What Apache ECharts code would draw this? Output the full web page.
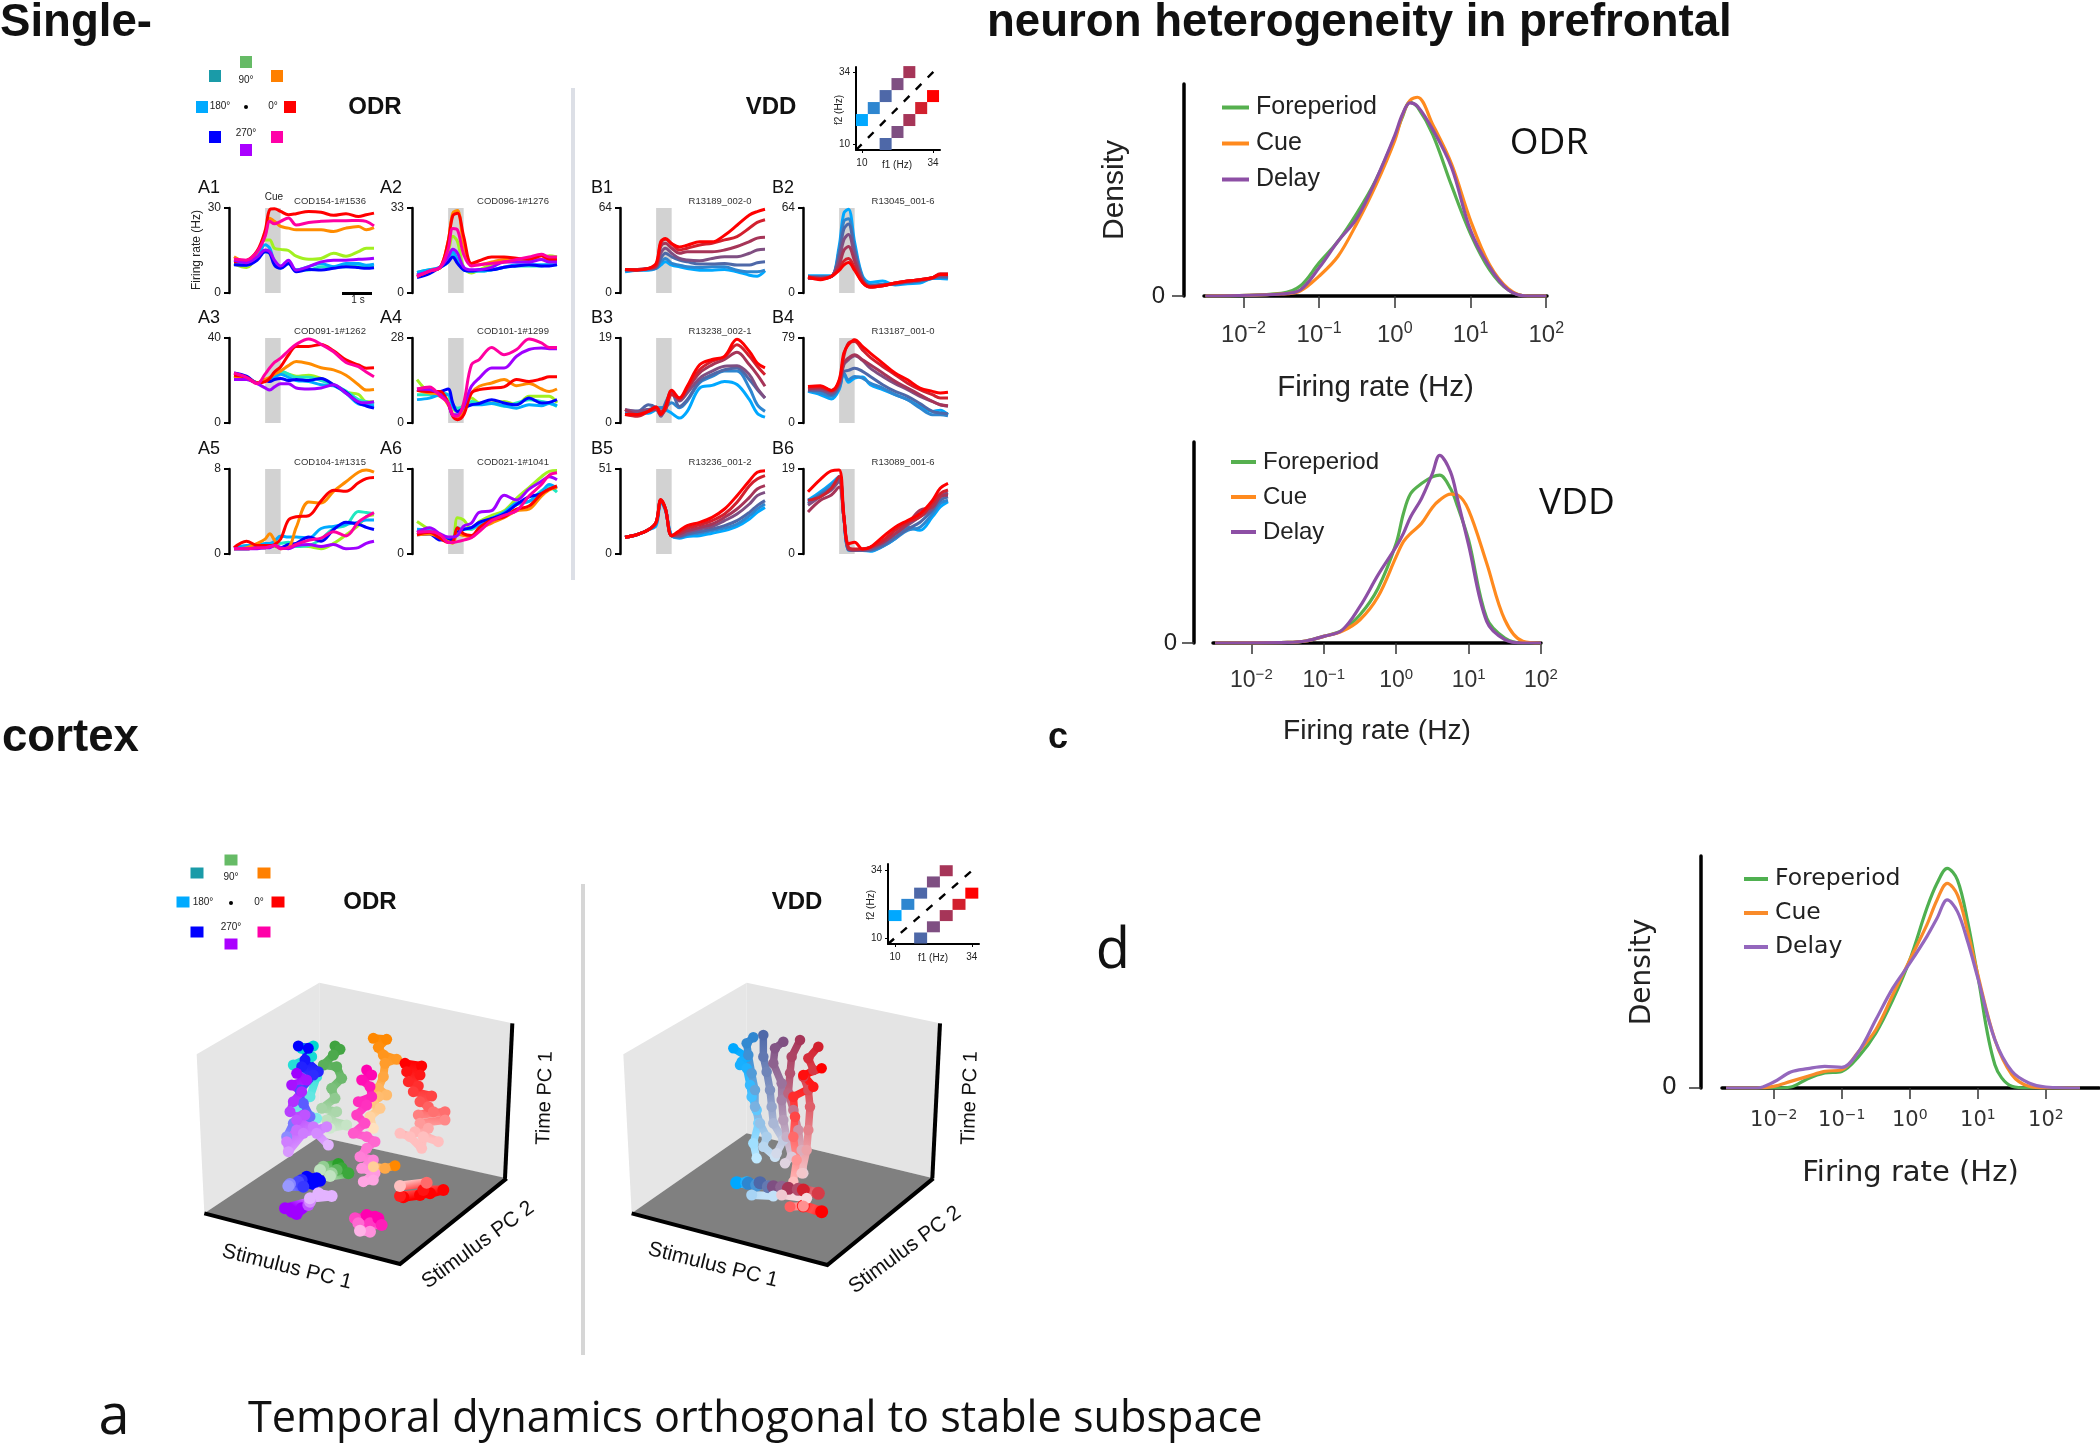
<!DOCTYPE html>
<html><head><meta charset="utf-8">
<style>html,body{margin:0;padding:0;background:#fff}#c{width:2100px;height:1443px}</style>
<script src="https://cdn.jsdelivr.net/npm/echarts@6/dist/echarts.min.js"></script>
</head><body><div id="c"></div>
<script>
// ---------- DATA: single-neuron firing rates (Hz), by time from cue onset (s) ----------
const time = [-1,-.6,-.25,0,.15,.3,.5,.75,1,1.4,1.8,2.2,2.6,3,3.25,3.5];
const cueWindow = [0, 0.5];
const odrNames = ['90°','135°','180°','225°','45°','0°','270°','315°'];
const odrLineColors = ['#a2f020','#20e8c0','#00aaff','#0000ff','#ff8c00','#ff0000','#a000ff','#ff00a0'];
const vddNames = ['f1 10','f1 14','f1 18','f1 22','f1 26','f1 30','f1 34'];
const vddLineColors = ['#00a8ff','#2e86d0','#4e68a8','#7f4f82','#a63558','#d2202e','#ff0000'];

// order in every A array: lime, teal, sky, blue, orange, red, purple, magenta
const A1 = [
 [10.2,9,14,18.7,18.7,15.8,15.4,15,13,11.9,12.2,14,13,14.6,15.8,15.8],
 [10.4,9.8,12.8,14.6,14,11,8.7,10.4,8.1,8.1,9.3,9.3,9.3,9.8,9.3,9.3],
 [10.4,10.2,12.8,17,15.8,11,9.3,10.4,8.1,9.3,10.4,9.3,10.4,10.4,9.8,10.2],
 [10,9.8,11.6,14.6,14,9.8,8.7,10.4,7.5,8.3,8.1,8.7,9.3,9,8.7,8.9],
 [12.8,11,14.6,20.5,26.4,25.3,23.5,22.9,22.3,22.3,22.3,21.7,22.9,23.5,22.3,23.1],
 [11,11.5,15,22,29.4,29.7,28.8,27.6,28,28.8,28.5,27.4,28,27,27.6,28.2],
 [11.6,10.7,12.8,15.2,14.6,11.6,9.5,11.6,8.1,9.3,11,11.6,11.6,11.9,12,12.3],
 [12,11.6,14.6,20,25.3,24.4,25.3,26.5,24,24.9,25.3,25.5,25.5,25.6,25.3,23.7]];
const A2 = [
 [7,8.8,9.8,16,22,20,10,7.8,9,11,12,12.5,13,13,14.5,14],
 [8,9,10,12,15,12,9,8.5,8.5,9,10,10.5,10.5,10.5,11,11],
 [8,9,10,13,16,13,9,8.5,8.5,9,10,11,11,11,11,11],
 [6,7.5,10,12,14,11.5,9,8.5,9,9,10,10.5,11,10.5,10.5,11],
 [6.5,8.5,10,20,31,32,19,11,11,12,13,13,13.5,13,12.5,12.5],
 [6.5,8.5,10,20,30,31,22,11.5,12.5,14,14,13.5,13,14.5,13,13],
 [7,8.5,10,14,17,15.5,10,9,9,10,12,12,12,13,12,12],
 [6.5,8.5,10,17,25,24.5,15,10.5,11,11.5,12,13,14,15,14,14]];
const A3 = [
 [22,21,19,20,21,22,24,23,22,22.5,21,18,14.5,13.5,10,10],
 [22,21,19,20,21,23,24.5,23,21.5,21.5,20,18,15,11,10,9],
 [21.5,21,19,20,21,21.5,23,21.5,20,19.5,18,17.5,14,9,8.5,8],
 [23.5,22,19,20,19.5,20.5,21,20,20.5,20,21,18,14.5,9.5,8,7],
 [22,21,19,20.5,21.5,23,24.5,27,29,28,26,25,22.5,18,15.5,15.8],
 [22.5,21.5,18.8,19.5,21,24,26.5,32,36,36,37,34,29.7,27.3,25.8,26],
 [20.5,20.5,18.5,16.5,15.5,17,18.5,18.5,16.5,16,16.5,18,14,10,9.5,10],
 [23.5,21.5,18.5,23,26,28.5,30.5,34,37,39.5,37,33.5,28.5,26.5,24,21.8]];
const A4 = [
 [14.3,9.9,8.8,7.7,4.9,3.8,6,8.2,6.6,6.6,7.1,6,8.8,8.8,8.8,6.6],
 [9.3,9.3,9.9,9.3,6,4.9,5.5,7.1,6.4,6.4,5.5,6.6,7.7,7.1,6.6,5.5],
 [7.7,8.2,9.3,9.3,5.5,3.8,4.9,6,6,6.4,5.7,4.9,6,5.7,6.4,5.7],
 [11,10.4,10.4,11.2,6.6,3.8,4.9,6,6.4,7.7,6.6,6,8.2,6.6,6.8,7.7],
 [10.8,9.9,9.3,6,2.7,1.6,3.8,9.9,12.1,13.2,14.3,12.3,13,11.2,10.4,11.2],
 [10.8,10.4,10.4,6.6,2.2,1.1,2.7,9.9,11,11.5,11.9,14.3,13.7,14.5,15.2,15.2],
 [11.2,11,9.3,6.6,2.7,2.7,5.5,12.1,14.8,18.1,18.1,22,24.2,24.7,24.5,24.5],
 [11.2,11.9,8.8,6.6,2.7,2.2,6.6,19.2,20.9,24.9,22.5,24.2,27.7,26.4,24.9,24.9]];
const A5 = [
 [.5,.5,.6,.6,.7,.7,.6,.7,.8,.7,.5,1,1.8,2.7,3.5,3.7],
 [.5,.5,.6,.7,.7,.9,1,1.1,.7,.8,1.4,2.4,2.7,4,3.9,3.8],
 [.5,.8,.8,1,1,1.2,1.7,1.6,1.6,1.5,2.4,2.6,2.8,3,3.2,3.2],
 [.5,.5,.6,.6,.7,.8,.6,.9,1,1.6,1.2,2.3,3,2.8,2.5,2.3],
 [.5,.6,1,1.4,1.9,1.3,.5,.6,2.5,4.9,4.8,5.9,6.8,7.7,7.9,7.7],
 [.6,1.2,.8,.8,.8,.9,1.4,3.2,3.5,3.6,5,6,5.9,6.7,7.1,7.2],
 [.5,.5,.5,.6,.6,.8,.6,.5,.8,.9,.7,.9,.5,.6,1,1.2],
 [.5,.5,.6,.6,.7,.8,.5,.6,.9,1.3,1.5,2.1,1.7,3,3.5,3.9]];
const A6 = [
 [4.2,3.1,2,1.8,1.6,4.7,4.4,3.2,4.2,5,5.6,7.2,8.6,10,10.7,10.8],
 [3,3,2.2,2,1.9,3.4,3.2,3.2,3.8,4.6,5.3,6.4,6.8,8.2,8.6,8],
 [3.2,3,2.2,2,1.8,2.8,3.2,3.4,3.8,4.6,5.4,6.6,6.8,8,9,8.5],
 [2.5,2.6,1.8,1.8,2,2.8,3.2,3.4,4.1,4.6,5.2,6.4,7.4,7.8,8.4,8.6],
 [2.5,2.6,2.1,1.6,1.4,2.6,2.4,2.2,3.2,4,4.7,5.6,5.8,7.5,8.3,8.6],
 [2.5,2.8,2,1.5,1.6,3.4,2.6,2.4,3.4,4.4,4.8,5.8,6.2,7.8,8.4,8.8],
 [2.8,3.4,2.6,2.2,2.2,2.4,3.6,4,5.4,5.6,7.6,7,8.4,9.4,10,9.6],
 [2.8,2.9,2.5,1.5,1.5,1.6,1.8,2.1,2.9,4.3,5,5.6,7.5,9,10.2,10.5]];

// order in every B array: sky → red
const B1 = [
 [16,17.2,17.2,18.5,21,23.5,21,19.7,18.5,17.2,17.2,17.7,16,13.4,12.7,16.7],
 [16.7,17.2,17.7,18.5,23.5,26,22.3,21,19.7,19.2,19.7,19.7,17.2,16,16,17.2],
 [17.2,17.7,18,19,26,29.9,27.3,24.8,23.5,21.8,21.8,22.3,21,21,22.8,23.5],
 [17.7,17.7,18.5,19.7,29.9,33.7,29.9,26,24.8,24.3,26,27.3,27.3,29.9,32.4,32.9],
 [17.7,17.7,18.5,20.3,35,37.5,33.7,29.9,31.1,31.1,31.1,32.4,35,38.7,41.3,42],
 [17.7,17.7,18.5,21,37.5,40.5,37,32.4,33.7,36.2,37.5,40,42.5,48.9,53.2,55.2],
 [17.7,17.2,18.5,22.3,38.7,41,37.2,34.7,36,38.5,38.5,43.5,51,58.7,61.3,63]];
const B2 = [
 [13,13,13,35,60,63,38,13,8,9,6,7,7.5,11,11,10.5],
 [12.5,12.5,12.5,32,54,56,34,12,6,6.5,6.5,8,9,11,12,11.5],
 [12,12,12.5,29,48,52,32,11,5.5,6,7,8,9,11,12,12],
 [12,11,12.5,25,40,44,28,10,5,6,7,8.5,9.5,11.5,13,13],
 [11,11,12.5,21,32,35,24,9,4.5,5.5,7.5,9,10,11.5,14,14],
 [12,11,12.5,18,24,26,19,8,4.5,5.5,7.5,9,10,11.5,14.5,14.5],
 [12,10,12.5,17,21,23,17,8,4.5,5.5,7.5,9,10,11.5,14,14]];
const B3 = [
 [1.9,2.2,2.2,3,3.4,3,2.2,1.1,2.6,7.8,8.4,9.3,8.6,5.2,2.2,1.3],
 [2.6,2.6,3,3.4,3.4,3.7,4.5,3.4,4.9,9,10.4,11.6,11.6,7.8,4.1,2.6],
 [2.6,2.6,4.1,3.4,1.9,4.5,6.7,3.7,5.2,9.3,10.8,11.9,12.3,9.7,7.5,5.6],
 [3,2.6,3,3,1.5,3.7,7.1,4.9,6.7,10,11.6,12.7,12.8,10.8,7.8,5.6],
 [3,1.9,2.6,3,1.9,3,6.7,5.2,7.5,11.2,13,14.2,15.8,13,10.8,8.2],
 [1.9,1.5,2.6,3.6,2.6,3,6.3,5.6,7.8,11.9,13.8,14.8,17.5,14.9,12.7,10.8],
 [1.9,1.9,2.6,3.6,1.9,3.7,7.3,5.6,8.2,13,14.2,14.9,18.7,16,13.4,12.3]];
const B4 = [
 [29.4,26.3,22.3,31,46.4,37.8,41.8,42.7,35.6,31,26.3,21.7,15.5,10.8,11.8,7.7],
 [30.3,27.9,24.8,32.5,46.4,40.2,43.3,41.8,37,32.5,26.3,21.7,13.9,7.7,7.7,6.8],
 [30.3,30.3,26.3,34,48,48.9,51,48,43.3,35.6,29.4,24.8,18,10.8,9.3,8.7],
 [31.6,31,27.9,35.6,54,58.8,62.5,58.2,51,43.3,36.5,31,24.8,20,17,15.5],
 [31.6,32.5,29.4,37,55.7,60.4,63.5,58.8,54.2,46.4,38.7,32.5,26.3,20,17,16],
 [33.4,33.4,30.3,38.7,61.9,74.3,75.8,68,61,52.6,44.9,37,31,26.3,23.2,23.2],
 [34,34.7,30.3,40,65,72.8,77.4,71.2,65,55.7,46.4,40.2,32.5,29.4,27.9,28.5]];
const B5 = [
 [10,11.7,14.5,17,31,26,11,9.5,10.5,11,12.5,14,16.5,21,25,28],
 [10,11.7,14.5,18,32,27,11,10,11.5,12.5,14,15.5,18,23,27,30],
 [10,11.7,14.5,18.5,32,27,11,10.5,12,13.5,15,17,20,25,29,32],
 [10,11.7,14.5,19,32,27,11,11,13,15,16.5,20,24,30,35,37],
 [10,11.7,14.5,19,32,27,11,12,14,16,18,22,27,34,39,41],
 [10,11.7,14.5,19,32.5,27,11,13,15.5,17.5,20,24,31,41,45,47],
 [10,11.7,14.5,19.2,32.7,27.2,11,14,17,19,22,27,35,44,49,50]];
const B6 = [
 [12,13.9,15.8,17.3,8.3,.9,.8,.8,.6,1.7,3.4,6,5.3,8.3,10.5,11.7],
 [11.7,13.5,15.4,16.9,8.3,.9,.8,.8,.8,1.7,3.4,5.3,6,9,11.3,12],
 [11.3,13.2,14.7,16.5,8.3,1.1,.9,.8,.9,1.9,3.8,5.6,7.1,9.8,12,12.8],
 [10.9,12.8,14.3,16.2,8.3,1.1,.9,.9,1.1,2.4,4.5,6.4,8.3,10.2,12.8,13.7],
 [9.4,12,13.2,15,8.3,1.1,.9,1.1,1.5,2.6,4.5,6.8,9.8,10.5,12.8,13.2],
 [12,12.8,14.7,17.3,8.3,1.5,1.1,1.1,1.5,3,5.3,7.1,8.3,11.3,13.5,14.3],
 [13.9,16.7,18.6,18.8,9,2.3,2.6,1.1,1.5,3.8,6,7.5,9,12,14.7,15.8]];

const panelNames = ['A1','A2','A3','A4','A5','A6','B1','B2','B3','B4','B5','B6'];
const panelMax = [30,33,40,28,8,11,64,64,19,79,51,19];
const panelIds = ['COD154-1#1536','COD096-1#1276','COD091-1#1262','COD101-1#1299','COD104-1#1315','COD021-1#1041',
                  'R13189_002-0','R13045_001-6','R13238_002-1','R13187_001-0','R13236_001-2','R13089_001-6'];
const panelData = [A1,A2,A3,A4,A5,A6,B1,B2,B3,B4,B5,B6];

// ---------- DATA: firing-rate densities (log10 Hz; density in arbitrary units) ----------
const odrLogRate = [-2.5,-1.5,-1.25,-1,-.75,-.5,-.25,0,.1,.2,.3,.5,.75,1,1.25,1.5,1.75,2];
const odrFore  = [0,8,30,100,165,250,350,480,540,585,570,488,333,188,80,18,0,0];
const odrCue   = [0,6,15,60,120,220,335,470,545,590,600,518,398,228,95,22,0,0];
const odrDelay = [0,6,18,85,165,235,350,485,548,583,573,503,388,198,88,18,0,0];
const vddLogRate = [-2.5,-1.5,-1.25,-1,-.75,-.5,-.25,0,.1,.2,.35,.5,.6,.75,.85,1,1.25,1.5,1.75,2];
const vddFore  = [0,2,6,20,38,85,165,300,390,450,480,500,505,465,410,310,75,15,0,0];
const vddCue   = [0,2,6,20,35,70,140,260,305,330,360,408,430,448,445,400,240,70,5,0];
const vddDelay = [0,2,6,20,38,110,205,290,330,380,435,510,565,515,430,295,65,10,0,0];
const pfcLogRate = [-2.7,-2.25,-2,-1.75,-1.5,-1.25,-1,-.75,-.5,-.25,0,.25,.4,.55,.7,.85,1,1.25,1.5,1.75,2,2.5];
const pfcFore  = [0,0,0,3,28,45,50,95,165,265,385,540,615,660,625,500,335,70,5,0,0,0];
const pfcCue   = [0,0,5,20,35,50,55,110,175,280,385,490,565,615,580,470,340,145,40,5,0,0];
const pfcDelay = [0,0,18,48,58,65,62,110,205,300,375,455,510,565,530,440,330,145,50,15,3,0];
const logTicks = [-2,-1,0,1,2];

// ---------- DATA: VDD stimulus grid (f1, f2 in Hz) ----------
const vddStim = [[10,18],[14,22],[18,26],[22,30],[26,34],[18,10],[22,14],[26,18],[30,22],[34,26]];
const vddStimColors = ['#00a8ff','#2e86d0','#4e68a8','#7f4f82','#a63558','#4e68a8','#7f4f82','#a63558','#d2202e','#ff0000'];

// ---------- DATA: 3-D state-space trajectories, read as projected positions ----------
const tRed = [[705,310],[755,318],[710,335],[750,345],[715,365],[745,378],[730,395],[785,408],[750,425],[775,440],[790,455],[745,465],[825,455],[825,480],[750,490],[775,505],[735,515],[805,545],[760,530],[755,565],[720,530],[690,520]];
const tOrange = [[610,235],[650,238],[625,262],[640,285],[680,298],[645,310],[640,350],[625,385],[650,405],[625,410],[610,430],[630,445],[600,470],[610,505]];
const tMagenta = [[590,330],[605,345],[575,360],[600,380],[605,410],[565,425],[590,435],[560,465],[585,490],[550,520],[590,530],[615,545],[590,565],[570,590],[610,600],[575,625],[615,640],[580,665],[610,660]];
const tGreen = [[495,258],[510,268],[490,285],[460,315],[500,320],[515,355],[485,385],[495,415],[455,445],[500,455],[470,480],[530,495],[480,505]];
const tTeal = [[430,258],[395,265],[425,290],[370,315],[440,350],[420,410],[380,440],[440,475]];
const tBlue = [[385,258],[415,265],[405,300],[445,335],[395,320],[430,345],[390,390],[400,430],[420,470],[370,490],[350,530]];
const tPurple = [[380,340],[410,360],[365,375],[395,395],[370,425],[360,455],[405,465],[380,480],[430,500],[380,510],[350,545],[355,575],[400,520],[470,500],[440,520],[475,555]];
const fGreen = [[505,612],[460,620],[515,625],[450,630],[500,630],[485,640],[535,640],[480,648]];
const fBlue = [[410,650],[440,655],[395,660],[450,662],[385,665],[430,672],[360,672],[400,680],[355,678]];
const fPurple = [[395,745],[365,755],[415,735],[380,762],[345,745],[420,725],[445,700],[485,708],[420,715]];
const fMagenta = [[590,765],[615,770],[555,775],[600,790],[625,775],[635,795],[565,790],[600,815],[570,812]];
const fRed = [[700,712],[750,705],[690,708],[780,700],[820,690],[760,690],[770,668],[690,678]];
const fOrange = [[675,617],[645,625],[610,620]];

const vSky = [[400,265],[440,290],[425,305],[420,315],[440,325],[450,375],[455,410],[470,450],[475,490],[460,550],[470,595]];
const vAzure = [[460,232],[440,250],[445,285],[455,340],[465,390],[465,440],[480,490],[500,530],[490,560],[525,590]];
const vSlate = [[490,225],[490,290],[500,335],[510,390],[515,440],[520,490],[550,540],[530,580]];
const vPlum = [[550,245],[525,265],[520,310],[545,370],[545,420],[550,480],[560,530],[575,590],[555,610]];
const vRose = [[600,240],[575,290],[570,340],[565,400],[580,450],[595,510],[605,570],[610,640]];
const vCrimson = [[655,260],[625,295],[640,330],[610,350],[625,390],[630,440],[625,510],[620,570],[605,640]];
const vRedT = [[665,325],[610,345],[640,380],[580,410],[585,470],[580,530],[590,600],[580,665]];
const vFloorSegs = [[[410,668],[440,668]],[[445,670],[470,675]],[[480,668],[505,680]],[[520,680],[545,682]],[[565,685],[595,688]],[[610,690],[655,700]],[[665,755],[610,738]]];
const vFloorPale = [[[455,705],[520,708]],[[545,705],[620,715]],[[570,740],[610,738]]];

// ---------- LAYOUT ----------
const chart = echarts.init(document.getElementById('c'), null, {renderer:'canvas', width:2100, height:1443});
const SANS = '"Liberation Sans", Arial, sans-serif';
const grids=[], xAxes=[], yAxes=[], series=[], graphic=[], legends=[];
function addGrid(rect,x,y){const i=grids.length;grids.push(rect);xAxes.push(Object.assign({gridIndex:i,type:'value',splitLine:{show:false}},x));yAxes.push(Object.assign({gridIndex:i,type:'value',splitLine:{show:false}},y));return i;}
function text(str,x,y,size,o){o=o||{};graphic.push({type:'text',x,y,rotation:o.rot||0,z:50,style:{text:str,fontSize:size,fontWeight:o.bold?'bold':'normal',fontFamily:o.font||SANS,fill:o.color||'#111',textAlign:o.align||'center',textVerticalAlign:'middle'}});}
function bar(x,y,w,h,c){graphic.push({type:'rect',z:1,shape:{x,y,width:w,height:h},style:{fill:c}});}

// small firing-rate panels
const colX = [234,417,625,808], rowY = [208,338,469], labelShift=[25,26,23,25];
panelNames.forEach((name,i)=>{
  const isA = i<6, col = (isA?0:2)+(i%2), row = Math.floor(i%6/2);
  const left=colX[col], top=rowY[row], max=panelMax[i];
  const g=addGrid({left,top,width:140,height:85},
    {show:false,min:-1,max:3.5},
    {min:0,max,interval:max,offset:5,axisLine:{show:true,onZero:false,lineStyle:{color:'#000',width:2.5}},
     axisTick:{show:true,length:5,lineStyle:{color:'#000',width:2}},
     axisLabel:{fontSize:12,color:'#222',margin:8,fontFamily:SANS}});
  series.push({type:'line',name:name+' cue',xAxisIndex:g,yAxisIndex:g,data:[],silent:true,
    markArea:{silent:true,itemStyle:{color:'#d2d2d2'},data:[[{xAxis:cueWindow[0],yAxis:0},{xAxis:cueWindow[1],yAxis:max}]]}});
  panelData[i].forEach((vals,k)=>{
    const color=(isA?odrLineColors:vddLineColors)[k];
    series.push({type:'line',name:name+' '+(isA?odrNames:vddNames)[k],xAxisIndex:g,yAxisIndex:g,smooth:.35,showSymbol:false,clip:false,
      lineStyle:{color,width:3,join:'round'},itemStyle:{color},data:vals.map((v,j)=>[time[j],v])});
  });
  text(name,left-labelShift[col],top-20,18,{align:'center'});
  text(panelIds[i],left+(isA?96:95),top-7,9.5,{color:'#333'});
});
text('Cue',274,197,10,{color:'#222'});
text('Firing rate (Hz)',197,250,12,{rot:Math.PI/2,color:'#222'});
bar(342,292,30,3,'#000'); text('1 s',358,300,10,{color:'#222'});

// direction legends (ODR)
const dirLegendColors=['#66bb66','#1a9ba8','#ff8000','#00aaff','#ff0000','#0000ff','#ff00a8','#aa00ff'];
function dirLegend(pos,labels,dot,w,h){
  pos.forEach((p,i)=>graphic.push({type:'rect',z:5,shape:{x:p[0]-w/2,y:p[1]-h/2,width:w,height:h},style:{fill:dirLegendColors[i]}}));
  labels.forEach(l=>text(l[0],l[1],l[2],10,{color:'#222'}));
  graphic.push({type:'circle',z:5,shape:{cx:dot[0],cy:dot[1],r:2},style:{fill:'#000'}});
}
dirLegend([[246,62],[215,76],[277,76],[202,107],[290,107],[215,137],[277,137],[246,150]],
  [['90°',246,80],['180°',220,106],['0°',273,106],['270°',246,133]],[246,107],12,12);
dirLegend([[231,860],[197,873],[264,873],[183,902],[278,902],[197,932],[264,932],[231,944]],
  [['90°',231,877],['180°',203,902],['0°',259,902],['270°',231,927]],[231,903],13,11);
text('ODR',375,107,24,{bold:true}); text('VDD',771,107,24,{bold:true});
text('ODR',370,902,24,{bold:true}); text('VDD',797,902,24,{bold:true});

// VDD stimulus grids
function stimGrid(rect,xr,yr,sym){
  const g=addGrid(rect,
    {min:xr[0],max:xr[1],axisLine:{onZero:false,lineStyle:{color:'#000',width:2}},
     axisTick:{show:true,customValues:[10,34],length:3,lineStyle:{color:'#000'}},
     axisLabel:{customValues:[10,34],fontSize:10,color:'#222',margin:8,fontFamily:SANS}},
    {min:yr[0],max:yr[1],axisLine:{onZero:false,lineStyle:{color:'#000',width:2}},
     axisTick:{show:true,customValues:[10,34],length:3,lineStyle:{color:'#000'}},
     axisLabel:{customValues:[10,34],fontSize:10,color:'#222',margin:6,fontFamily:SANS}});
  series.push({type:'line',name:'f1 = f2',xAxisIndex:g,yAxisIndex:g,showSymbol:false,lineStyle:{color:'#000',width:2.4,type:[8,9]},data:[[xr[0],yr[0]],[35.8,35.8]]});
  series.push({type:'scatter',name:'stimuli',xAxisIndex:g,yAxisIndex:g,symbol:'rect',symbolSize:sym,data:vddStim.map((v,i)=>({value:v,itemStyle:{color:vddStimColors[i],opacity:1}}))});
}
stimGrid({left:856,top:67,width:84,height:83},[8,36.35],[8,35.7],[12,12]);
stimGrid({left:888,top:864,width:91,height:80},[7.8,36.25],[7.86,36.4],[13,11]);
text('f1 (Hz)',897,165,10,{color:'#222'}); text('f2 (Hz)',839,110,10,{rot:Math.PI/2,color:'#222'});
text('f1 (Hz)',933,958,10,{color:'#222'}); text('f2 (Hz)',871,905,10,{rot:Math.PI/2,color:'#222'});

// density panels
function density(rect,xr,ymax,lx,curves,key,colors,o){
  const labelRich={b:{fontSize:o.tick,color:'#333',fontFamily:o.font},s:{fontSize:o.sup,color:'#333',fontFamily:o.font,padding:[0,0,o.tick*.55,0]}};
  const g=addGrid(rect,
    {min:xr[0],max:xr[1],name:'Firing rate (Hz)',nameLocation:'middle',nameGap:o.xGap,nameTextStyle:{fontSize:o.xName,color:'#222',fontFamily:o.font},
     axisLine:{onZero:false,lineStyle:{color:'#000',width:3.5}},
     axisTick:{show:true,customValues:logTicks,length:o.tickLen,lineStyle:{color:'#333',width:1.5}},
     axisLabel:{customValues:logTicks,margin:o.labelMargin,rich:labelRich,formatter:v=>'{b|10}{s|'+(v<0?'−':'')+Math.abs(v)+'}'}},
    {min:0,max:ymax,offset:o.yOff,name:o.density?'Density':'',nameLocation:'middle',nameGap:o.yGap,nameTextStyle:{fontSize:o.yName||28,color:'#222',fontFamily:o.font},
     axisLine:{show:true,onZero:false,lineStyle:{color:'#000',width:3.5}},
     axisTick:{show:true,customValues:[0],length:12,lineStyle:{color:'#333',width:1.5}},
     axisLabel:{customValues:[0],fontSize:24,color:'#222',margin:o.zeroMargin,fontFamily:o.font}});
  const names=['Foreperiod','Cue','Delay'];
  curves.forEach((c,k)=>series.push({type:'line',name:names[k]+'|'+key,xAxisIndex:g,yAxisIndex:g,smooth:.35,showSymbol:false,color:colors[k],lineStyle:{color:colors[k],width:3.2},itemStyle:{color:colors[k]},z:3,data:c.map((v,j)=>[lx[j],v])}));
  legends.push({orient:'vertical',left:o.legLeft,top:o.legTop,itemWidth:o.legW,itemHeight:4,itemGap:o.legGap,icon:'rect',selectedMode:false,
    formatter:n=>n.split('|')[0],textStyle:{fontSize:o.legFont,color:'#222',fontFamily:o.font,padding:[0,0,0,2]},data:names.map(n=>n+'|'+key)});
}
density({left:1204,top:84,width:343,height:212},[-2.52,2.01],640,odrLogRate,[odrFore,odrCue,odrDelay],'odr',['#56b04f','#ff8a1e','#8d4fa5'],
  {font:SANS,tick:24,sup:16,xName:29.5,xGap:77,labelMargin:25,tickLen:12,yOff:20,density:true,yGap:54,yName:30,zeroMargin:19,legLeft:1217,legTop:90,legW:27,legGap:11,legFont:25});
density({left:1213,top:442,width:328,height:201},[-2.53,2.0],605,vddLogRate,[vddFore,vddCue,vddDelay],'vdd',['#56b04f','#ff8a1e','#8d4fa5'],
  {font:SANS,tick:23,sup:15,xName:28.2,xGap:74,labelMargin:24,tickLen:11,yOff:19,density:false,yGap:54,zeroMargin:17,legLeft:1226,legTop:445,legW:25,legGap:11,legFont:24});
density({left:1722,top:856,width:377,height:232},[-2.76,2.78],697,pfcLogRate,[pfcFore,pfcCue,pfcDelay],'pfc',['#4fb050','#f98b2a','#9467bd'],
  {font:'"DejaVu Sans", sans-serif',tick:21,sup:14,xName:29,xGap:71,labelMargin:20,tickLen:11,yOff:21,density:true,yGap:44,zeroMargin:24,legLeft:1739,legTop:862,legW:24,legGap:10,legFont:23.5});
text('ODR',1549,143,37,{font:'"Open Sans", sans-serif'});
text('VDD',1577,503,37,{font:'"Open Sans", sans-serif'});

// pseudo-3D boxes
function mix(hex,a){const n=parseInt(hex.slice(1),16),c=[n>>16&255,n>>8&255,n&255].map(v=>Math.round(v+(255-v)*a));return 'rgb('+c.join(',')+')';}
function traj(g,pts,color,width,paleEnd,name){
  const xs=pts.map(p=>p[0]),ys=pts.map(p=>p[1]),x0=Math.min(...xs),y0=Math.min(...ys),dx=Math.max(...xs)-x0||1,dy=Math.max(...ys)-y0||1;
  const a=pts[0],b=pts[pts.length-1];
  const grad=new echarts.graphic.LinearGradient((a[0]-x0)/dx,(a[1]-y0)/dy,(b[0]-x0)/dx,(b[1]-y0)/dy,[{offset:0,color:color},{offset:.5,color:mix(color,.3)},{offset:1,color:mix(color,paleEnd)}]);
  const len=((b[0]-a[0])**2+(b[1]-a[1])**2)||1;
  const data=pts.map(p=>{
    const f=Math.max(0,Math.min(1,((p[0]-a[0])*(b[0]-a[0])+(p[1]-a[1])*(b[1]-a[1]))/len));
    const pale=f<.5?f/.5*.3:.3+(f-.5)/.5*(paleEnd-.3);
    return {value:p,itemStyle:{color:mix(color,pale),opacity:1}};
  });
  series.push({type:'line',name,xAxisIndex:g,yAxisIndex:g,showSymbol:true,showAllSymbol:true,symbol:'circle',symbolSize:width+3,clip:false,z:4,lineStyle:{color:grad,width,cap:'round',join:'round'},data});
}
function box(left,walls){
  const g=addGrid({left,top:960,width:400,height:360},{show:false,min:0,max:1200},{show:false,min:0,max:1080,inverse:true});
  series.push({type:'custom',name:'box',xAxisIndex:g,yAxisIndex:g,silent:true,clip:false,z:1,data:[[0]],
    renderItem:(p,api)=>({type:'group',children:walls.map(w=>({type:'polygon',shape:{points:w.pts.map(q=>api.coord(q))},style:{fill:w.fill}}))})});
  return g;
}
function boxEdges(g,edge){series.push({type:'line',name:'axes',xAxisIndex:g,yAxisIndex:g,showSymbol:false,clip:false,z:3,lineStyle:{color:'#000',width:4,join:'miter'},data:edge[0]});
  series.push({type:'line',name:'time axis',xAxisIndex:g,yAxisIndex:g,showSymbol:false,clip:false,z:3,lineStyle:{color:'#000',width:4},data:edge[1]});}
const gOdr=box(170,[
 {pts:[[80,283],[448,68],[448,530],[103,760]],fill:'#e6e6e6'},
 {pts:[[448,68],[1027,190],[1005,655],[448,530]],fill:'#e4e4e4'},
 {pts:[[103,760],[448,530],[1010,655],[690,912]],fill:'#808080'}]);
boxEdges(gOdr,[[[103,760],[690,912],[1010,655]],[[1005,655],[1027,190]]]);
const gVdd=box(600,[
 {pts:[[70,283],[440,68],[440,520],[95,760]],fill:'#e6e6e6'},
 {pts:[[440,68],[1020,190],[1000,655],[440,520]],fill:'#e4e4e4'},
 {pts:[[95,760],[440,520],[1000,655],[682,915]],fill:'#808080'}]);
boxEdges(gVdd,[[[95,760],[682,915],[1000,655]],[[997,655],[1020,190]]]);

traj(gOdr,tGreen,'#3fa33f',8,.75,'ODR 90°');
traj(gOdr,tOrange,'#ff8800',8,.75,'ODR 45°');
traj(gOdr,tRed,'#ff0000',8,.75,'ODR 0°');
traj(gOdr,tTeal,'#00d8d0',8,.5,'ODR 135°');
traj(gOdr,tBlue,'#0000ff',8,.55,'ODR 225°');
traj(gOdr,tPurple,'#a000ff',8,.7,'ODR 270°');
traj(gOdr,tMagenta,'#ff00b0',8,.65,'ODR 315°');
traj(gOdr,fGreen,'#2aa02a',9,.7,'ODR floor 90°');
traj(gOdr,fBlue,'#0000ff',9,.6,'ODR floor 225°');
traj(gOdr,fPurple,'#a000ff',9,.7,'ODR floor 270°');
traj(gOdr,fMagenta,'#ff00b0',9,.7,'ODR floor 315°');
traj(gOdr,fRed,'#ff0000',9,.75,'ODR floor 0°');
traj(gOdr,fOrange,'#ff8800',8,.6,'ODR floor 45°');

[vSky,vAzure,vSlate,vPlum,vRose,vCrimson,vRedT].forEach((t,i)=>traj(gVdd,t,vddLineColors[i],7.5,.75,'VDD '+vddNames[i]));
vFloorSegs.forEach((t,i)=>traj(gVdd,t,vddLineColors[i],10,.12,'VDD floor '+vddNames[i]));
vFloorPale.forEach((t,i)=>traj(gVdd,t,i==0?'#a8d4f5':i==1?'#f0c8d0':'#ff6060',8,.3,'VDD floor pale'));

// 3-D axis captions
[[0,0],[425,-2]].forEach((o,i)=>{
  text('Time PC 1',545+o[0],1098,20,{rot:Math.PI/2-.03,color:'#111'});
  text('Stimulus PC 1',287+o[0]+(i?1:0),1267+o[1],21,{rot:-.245});
  text('Stimulus PC 2',478+o[0]+(i?2:0),1245+(i?5:0),21,{rot:.63});
});

// divider lines
bar(571,88,4,492,'#dcdfe6'); bar(581,884,4,471,'#d6d6d6');

// page caption fragments
text('Single-',0,23,45.6,{bold:true,align:'left'});
text('neuron heterogeneity in prefrontal',987,23,45.6,{bold:true,align:'left'});
text('cortex',2,738,45.6,{bold:true,align:'left'});
text('c',1058,738,36,{bold:true});
text('d',1113,952,56,{font:'"Open Sans", sans-serif'});
text('a',114,1418,56,{font:'"Open Sans", sans-serif'});
text('Temporal dynamics orthogonal to stable subspace',248,1420,43.2,{align:'left',font:'"Open Sans", sans-serif'});

chart.setOption({animation:false,backgroundColor:'#fff',grid:grids,xAxis:xAxes,yAxis:yAxes,series,legend:legends,graphic:{elements:graphic}});
</script></body></html>
